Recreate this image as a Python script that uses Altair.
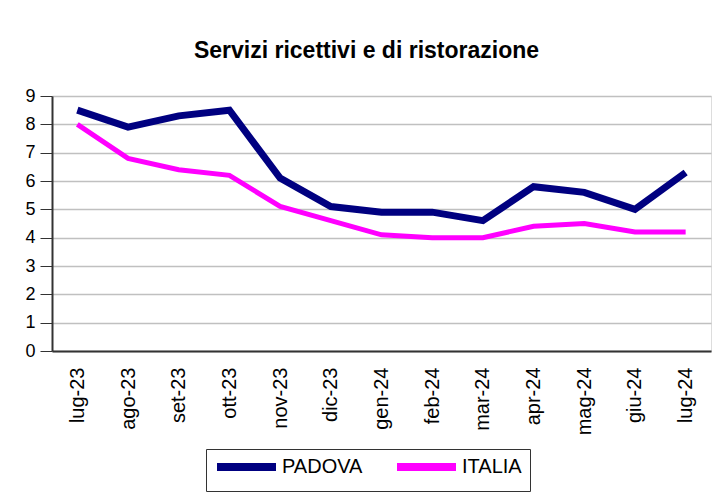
import altair as alt
import pandas as pd

months = ["lug-23", "ago-23", "set-23", "ott-23", "nov-23", "dic-23", "gen-24",
          "feb-24", "mar-24", "apr-24", "mag-24", "giu-24", "lug-24"]
padova = [8.5, 7.9, 8.3, 8.5, 6.1, 5.1, 4.9, 4.9, 4.6, 5.8, 5.6, 5.0, 6.3]
italia = [8.0, 6.8, 6.4, 6.2, 5.1, 4.6, 4.1, 4.0, 4.0, 4.4, 4.5, 4.2, 4.2]
series = ["PADOVA", "ITALIA"]
colors = ["#000080", "#FF00FF"]

rows = []
for i, m in enumerate(months):
    rows.append({"mese": m, "serie": "PADOVA", "valore": padova[i]})
    rows.append({"mese": m, "serie": "ITALIA", "valore": italia[i]})
df = pd.DataFrame(rows)

font = "Liberation Sans"

x = alt.X("mese:N", sort=months, title=None,
          scale=alt.Scale(paddingOuter=0.5, paddingInner=0),
          axis=alt.Axis(labelAngle=270, labelFontSize=20, labelFont=font, labelColor="black",
                        domainColor="#333333", domainWidth=2, ticks=False,
                        labelPadding=16))
y = alt.Y("valore:Q", title=None,
          scale=alt.Scale(domain=[0, 9], nice=False),
          axis=alt.Axis(values=list(range(10)), labelFontSize=18, labelFont=font, labelColor="black",
                        domainColor="#333333", domainWidth=2, tickColor="#333333", tickSize=12,
                        gridColor="#c0c0c0", gridWidth=1.5, labelPadding=5))
color = alt.Color("serie:N", scale=alt.Scale(domain=series, range=colors), title=None,
                  sort=series,
                  legend=alt.Legend(orient="none", legendX=154, legendY=353, direction="horizontal",
                                    symbolType="M-1.4,0L10.4,0", symbolStrokeWidth=8, symbolSize=100,
                                    labelFontSize=20, labelFont=font, labelColor="black",
                                    strokeColor="#333333", padding=8, columnPadding=18,
                                    labelOffset=48, fillColor="white"))

base = alt.Chart(df)
l1 = base.transform_filter(alt.datum.serie == "PADOVA").mark_line(strokeWidth=7).encode(x=x, y=y, color=color)
l2 = base.transform_filter(alt.datum.serie == "ITALIA").mark_line(strokeWidth=5).encode(x=x, y=y, color=color)

chart = alt.layer(l1, l2).properties(
    width=659, height=255,
    title=alt.Title("Servizi ricettivi e di ristorazione", font=font, fontSize=23, fontWeight="bold",
                    color="black", anchor="middle", offset=24, dx=-15),
    padding={"left": 44, "top": 88, "right": 6, "bottom": 143},
    autosize=alt.AutoSizeParams(type="none"),
).configure_view(stroke="#808080", strokeWidth=2).configure(background="white")

chart.save("out.html", embed_options={"renderer": "svg", "actions": False})
